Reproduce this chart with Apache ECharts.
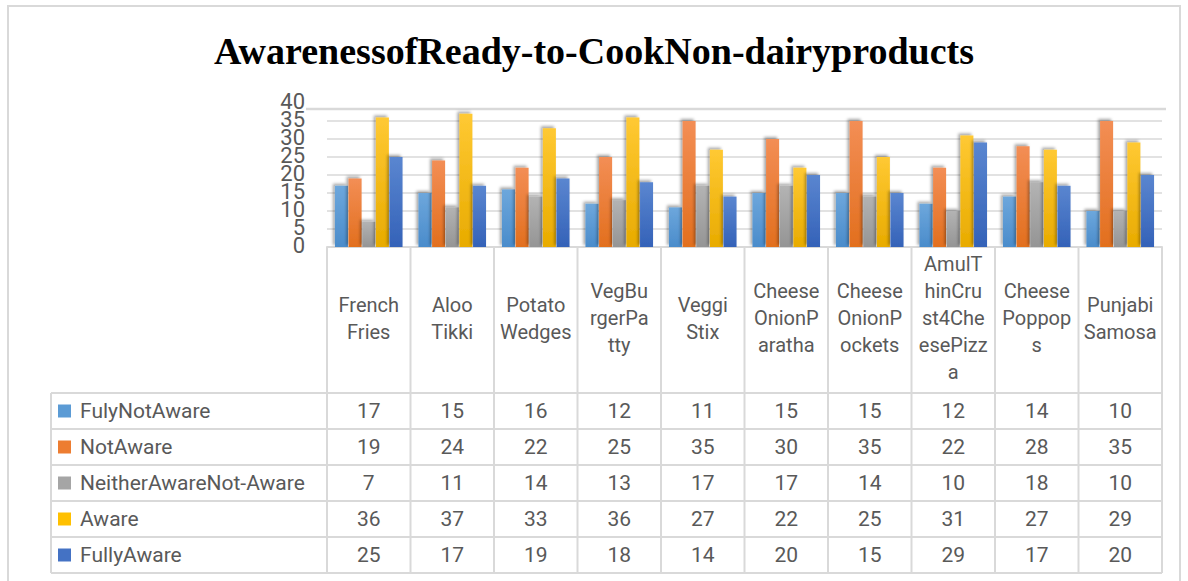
<!DOCTYPE html>
<html>
<head>
<meta charset="utf-8">
<script src="https://cdn.jsdelivr.net/npm/echarts@6/dist/echarts.min.js"></script>
<style>
html,body{margin:0;padding:0;background:#fff;}
#main{width:1188px;height:581px;}
</style>
</head>
<body>
<div id="main"></div>
<script>
//类别（按图中的换行显示）
var categories=['French\nFries','Aloo\nTikki','Potato\nWedges','VegBu\nrgerPa\ntty','Veggi\nStix',
	'Cheese\nOnionP\naratha','Cheese\nOnionP\nockets','AmulT\nhinCru\nst4Che\nesePizz\na','Cheese\nPoppop\ns','Punjabi\nSamosa'];
//系列名称
var seriesNames=['FulyNotAware','NotAware','NeitherAwareNot-Aware','Aware','FullyAware'];
//各系列数据
var fulyNotAware=[17,15,16,12,11,15,15,12,14,10];
var notAware=[19,24,22,25,35,30,35,22,28,35];
var neitherAware=[7,11,14,13,17,17,14,10,18,10];
var aware=[36,37,33,36,27,22,25,31,27,29];
var fullyAware=[25,17,19,18,14,20,15,29,17,20];
//y轴刻度
var yTicks=[0,5,10,15,20,25,30,35,40];
var yMin=0,yMax=40,yStep=5;

var seriesData=[fulyNotAware,notAware,neitherAware,aware,fullyAware];
//颜色：上浅下深
var colorTop=['#6da7dc','#f38e55','#b3b3b3','#ffc933','#5a86d0'];
var colorBottom=['#4a8ccb','#e26f1e','#959595','#e8ab00','#3462b8'];
var baseColor=['#5b9bd5','#ed7d31','#a5a5a5','#ffc000','#4472c4'];
var textColor='#595959';
var lineColor='#d9d9d9';
var font='Roboto, "Open Sans", sans-serif';

var myChart=echarts.init(document.getElementById('main'),null,{renderer:'svg'});

var series=[];
for(var s=0;s<seriesNames.length;s++){
	series.push({
		name:seriesNames[s],
		type:'bar',
		barWidth:13,
		barGap:'5%',
		data:seriesData[s],
		itemStyle:{
			color:new echarts.graphic.LinearGradient(0,0,0,1,[
				{offset:0,color:colorTop[s]},
				{offset:1,color:colorBottom[s]}
			]),
			shadowColor:'rgba(0,0,0,0.35)',
			shadowBlur:3,
			shadowOffsetX:-2,
			shadowOffsetY:-2
		}
	});
}

//最上面一条网格线不画，用单独的线代替
var gridColors=[];
for(var k=yMin;k<yMax;k+=yStep){gridColors.push(lineColor);}
gridColors.push('rgba(0,0,0,0)');

var option={
	backgroundColor:'#fff',
	animation:false,
	title:{
		text:'AwarenessofReady-to-CookNon-dairyproducts',
		left:'center',
		top:27,
		textStyle:{fontFamily:'"Liberation Serif", "DejaVu Serif", serif',fontWeight:'bold',fontSize:38,color:'#000'}
	},
	grid:{left:327,right:26,top:103,bottom:334},
	xAxis:{
		type:'category',
		data:categories,
		axisLine:{lineStyle:{color:lineColor,width:2}},
		axisTick:{show:false},
		axisLabel:{
			interval:0,
			margin:71,
			verticalAlign:'middle',
			fontFamily:font,
			fontSize:20,
			lineHeight:27,
			color:textColor
		}
	},
	yAxis:{
		type:'value',
		min:yMin,max:yMax,interval:yStep,
		axisLine:{show:false},
		axisTick:{show:false},
		//标签太挤会被自动隐藏，下面自己画
		axisLabel:{show:false},
		splitLine:{lineStyle:{color:gridColors,width:1.5}}
	},
	series:series
};
myChart.setOption(option);

//画y轴标签和下面的数据表
function drawTable(){
	var g=[];
	var n=categories.length;
	var c0=myChart.convertToPixel({xAxisIndex:0},0);
	var c1=myChart.convertToPixel({xAxisIndex:0},1);
	var band=c1-c0;
	var left=c0-band/2;
	var right=left+band*n;
	var y0=myChart.convertToPixel({yAxisIndex:0},0);
	var rowTop=393,rowH=36,tableLeft=51;
	var rowBottom=rowTop+rowH*seriesNames.length;
	var ls={stroke:lineColor,lineWidth:2};
	//外框
	g.push({type:'rect',shape:{x:8,y:6,width:1172,height:590},style:{fill:null,stroke:lineColor,lineWidth:2},silent:true});
	//顶部的横线
	g.push({type:'line',shape:{x1:306,y1:109,x2:1166,y2:109},style:{stroke:lineColor,lineWidth:2.5}});
	//y轴标签
	for(var t=0;t<yTicks.length;t++){
		var ty=myChart.convertToPixel({yAxisIndex:0},yTicks[t]);
		g.push({type:'text',x:305,y:ty-2,style:{text:String(yTicks[t]),fontFamily:font,fontSize:22,fill:textColor,align:'right',verticalAlign:'middle'}});
	}
	//竖线
	for(var i=0;i<=n;i++){
		var x=left+band*i;
		g.push({type:'line',shape:{x1:x,y1:y0,x2:x,y2:rowBottom},style:ls});
	}
	g.push({type:'line',shape:{x1:tableLeft,y1:rowTop,x2:tableLeft,y2:rowBottom},style:ls});
	//横线
	for(var r=0;r<=seriesNames.length;r++){
		var y=rowTop+rowH*r;
		g.push({type:'line',shape:{x1:tableLeft,y1:y,x2:right,y2:y},style:ls});
	}
	//图例和数值
	for(var s=0;s<seriesNames.length;s++){
		var cy=rowTop+rowH*s+rowH/2;
		g.push({type:'rect',shape:{x:58,y:cy-6.5,width:13,height:13},style:{fill:baseColor[s]}});
		g.push({type:'text',x:80,y:cy,style:{text:seriesNames[s],fontFamily:font,fontSize:21,fill:textColor,verticalAlign:'middle',align:'left'}});
		for(var i=0;i<n;i++){
			g.push({type:'text',x:left+band*i+band/2,y:cy,style:{text:String(seriesData[s][i]),fontFamily:font,fontSize:21,fill:textColor,verticalAlign:'middle',align:'center'}});
		}
	}
	myChart.setOption({graphic:g});
}
drawTable();
</script>
</body>
</html>
